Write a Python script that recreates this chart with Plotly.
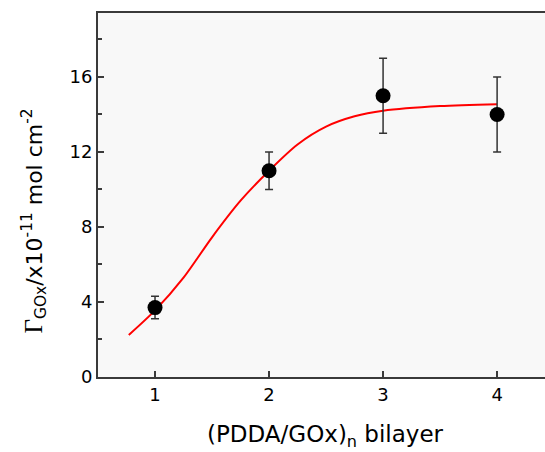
import plotly.graph_objects as go

# Measured surface coverage per number of (PDDA/GOx) bilayers
bilayers = [1, 2, 3, 4]
coverage = [3.7, 11.0, 15.0, 14.0]
coverage_err = [0.6, 1.0, 2.0, 2.0]

# Sigmoidal fit curve, sampled along its course
fit_x = [0.77, 1.0, 1.25, 1.5, 1.75, 2.0, 2.25, 2.5, 2.75, 3.0, 3.5, 4.0]
fit_y = [2.24, 3.55, 5.3, 7.45, 9.4, 11.0, 12.4, 13.35, 13.9, 14.2, 14.45, 14.55]

x_ticks = [1, 2, 3, 4]
y_ticks = [0, 4, 8, 12, 16]

axis_color = "#3a3a3a"
font_family = "DejaVu Sans, Arial, sans-serif"

fig = go.Figure()

fig.add_trace(go.Scatter(
    x=fit_x, y=fit_y, mode="lines",
    line=dict(color="#ff0000", width=2, shape="spline", smoothing=0.8),
    showlegend=False, hoverinfo="skip",
))

fig.add_trace(go.Scatter(
    x=bilayers, y=coverage, mode="markers",
    marker=dict(color="black", size=15),
    error_y=dict(type="data", array=coverage_err, visible=True,
                 color="#333333", thickness=1.5, width=4),
    showlegend=False,
))

fig.update_layout(
    width=545, height=452,
    margin=dict(l=98, r=0, t=13, b=75),
    paper_bgcolor="white",
    plot_bgcolor="#f8f8f8",
    font=dict(family=font_family, color="black"),
    showlegend=False,
)

fig.update_xaxes(
    range=[0.5, 4.42],
    tickvals=x_ticks,
    ticks="inside", ticklen=6, tickwidth=1.5, tickcolor=axis_color,
    showline=True, linecolor=axis_color, linewidth=2, mirror=True,
    showgrid=False, zeroline=False,
    tickfont=dict(size=18, family=font_family),
)

fig.update_yaxes(
    range=[0, 19.41],
    tickvals=y_ticks,
    ticks="inside", ticklen=6, tickwidth=1.5, tickcolor=axis_color,
    minor=dict(dtick=2, tick0=0, ticks="inside", ticklen=4, tickwidth=1.5,
               tickcolor=axis_color, showgrid=False),
    showline=True, linecolor=axis_color, linewidth=2, mirror=False,
    showgrid=False, zeroline=False,
    tickfont=dict(size=18, family=font_family),
)

# Axis titles
fig.add_annotation(
    text="(PDDA/GOx)<sub>n</sub> bilayer",
    xref="paper", yref="paper", x=0.508, y=-0.163,
    xanchor="center", yanchor="middle", showarrow=False,
    font=dict(size=23, family=font_family, color="black"),
)
fig.add_annotation(
    text="<span style='font-family:Liberation Serif;font-size:25px'>Γ</span>"
         "<sub>GOx</sub>/x10<sup>-11</sup> mol cm<sup>-2</sup>",
    xref="paper", yref="paper", x=-0.141, y=0.43, textangle=-90,
    xanchor="center", yanchor="middle", showarrow=False,
    font=dict(size=22, family=font_family, color="black"),
)

fig.write_html("out.html")
